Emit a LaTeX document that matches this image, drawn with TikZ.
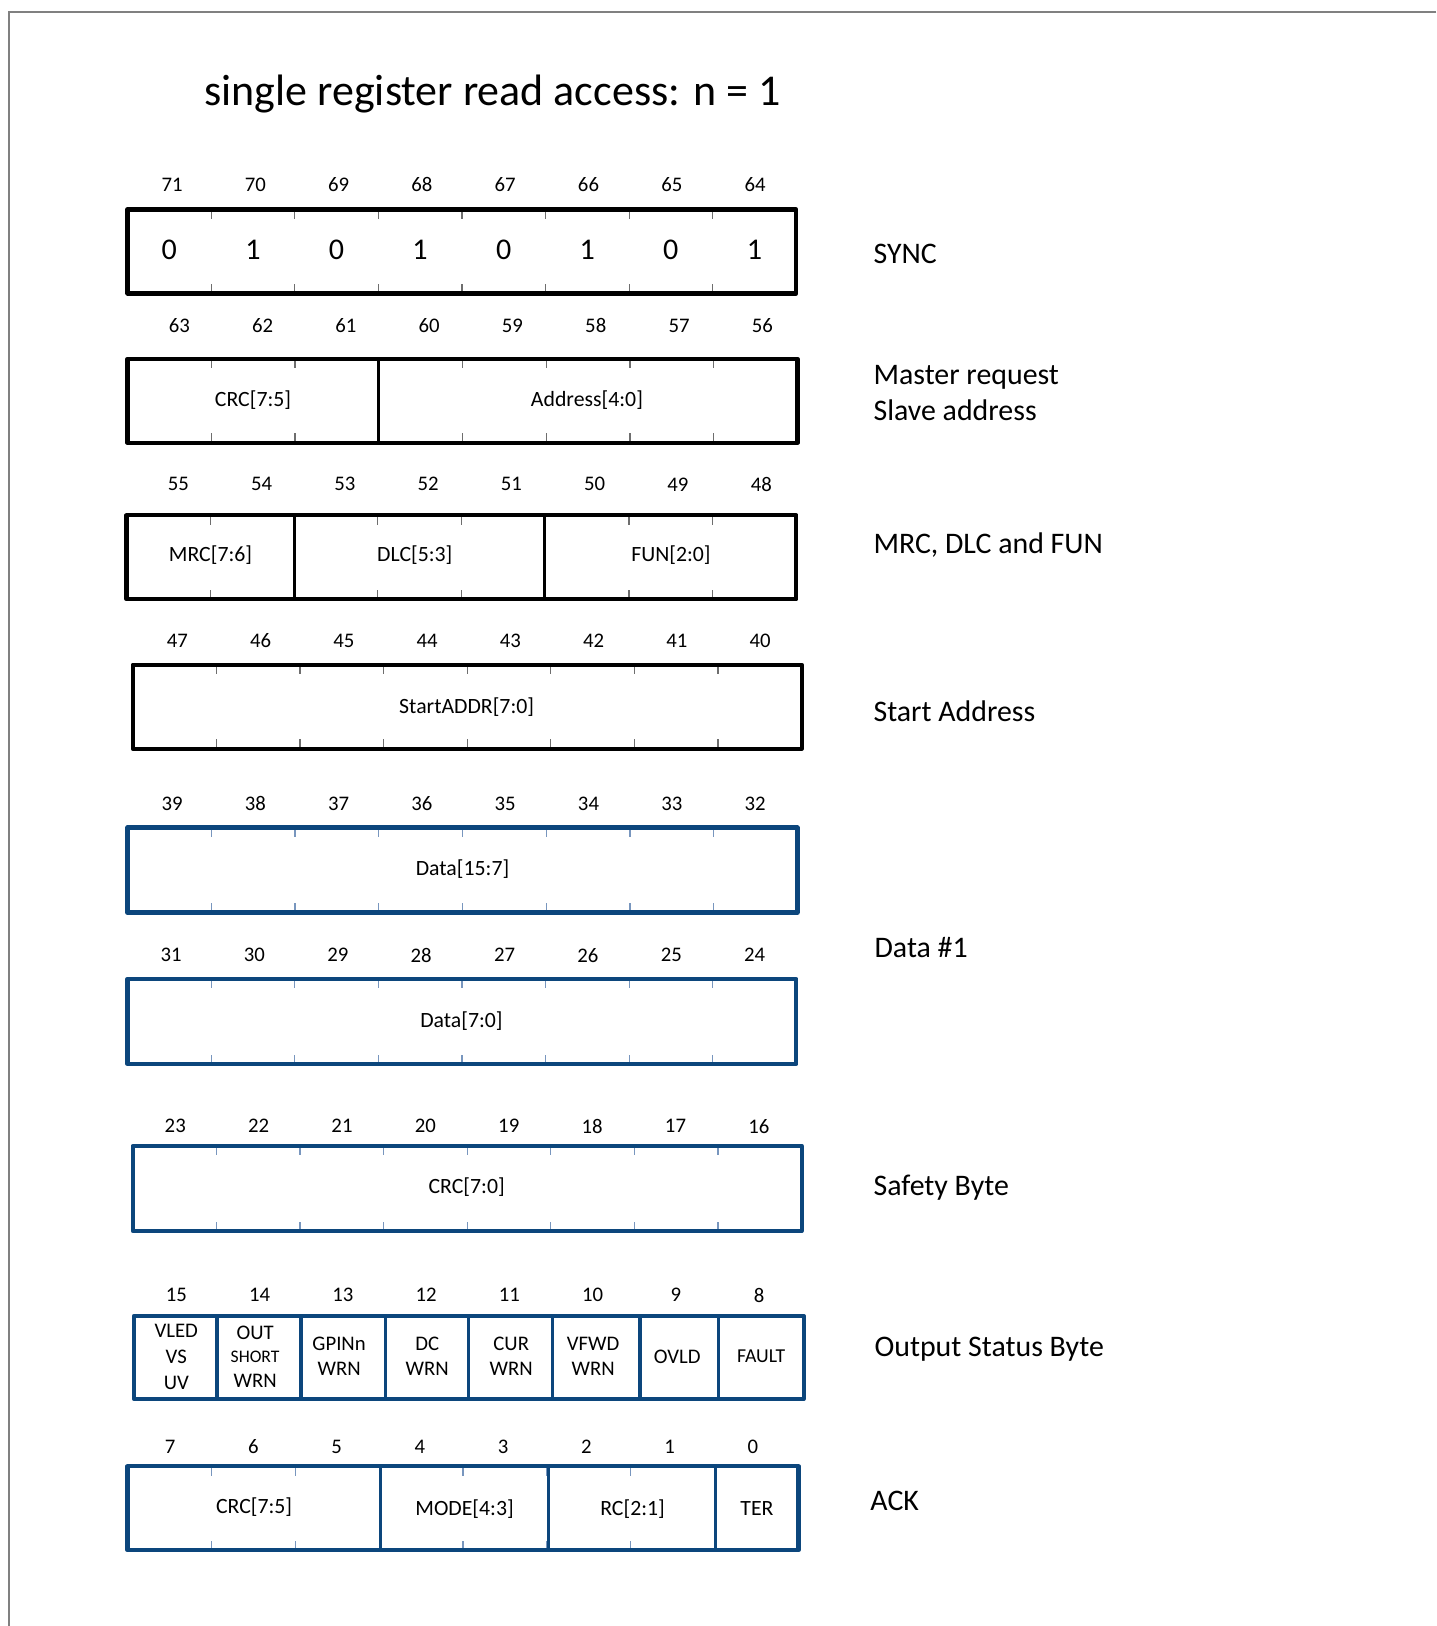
\documentclass[tikz,border=0pt]{standalone}
\usepackage{fontspec}
\setmainfont{Carlito}
\definecolor{regblue}{RGB}{12,70,124}
\definecolor{tickblue}{RGB}{120,150,190}
\definecolor{tickgray}{RGB}{110,110,110}
\newcommand\regbox[7]{%
  \foreach \ii in {1,...,7}{%
    \draw[#7, line width=0.6pt] ({#2+\ii*(#4-#2)/8},#3) -- ++(0,9)
      ({#2+\ii*(#4-#2)/8},#5) -- ++(0,-9);}
  \draw[#6, line width=2pt, line join=round] (#2,#3) rectangle (#4,#5);
}
\newcommand\regnums[4]{%
  \foreach \nn [count=\kk from 0] in {#1}{%
    \node[numtxt] (b\nn) at ({#2+\kk*#3},#4) {\nn};}
}
\tikzset{
  numtxt/.style={inner sep=0pt, font=\fontsize{10}{12}\selectfont},
  celltxt/.style={inner sep=0pt, font=\fontsize{10.5}{12}\selectfont},
  stattxt/.style={inner sep=0pt, font=\fontsize{10}{12}\selectfont},
  smalltxt/.style={inner sep=0pt, font=\fontsize{8.5}{10}\selectfont},
  sidetxt/.style={inner sep=0pt, anchor=west, align=left, font=\fontsize{14.4}{17}\selectfont},
  syncval/.style={inner sep=0pt, font=\fontsize{14.5}{16}\selectfont},
  blkdiv/.style={line width=1.2pt, black},
  bludiv/.style={line width=1.4pt, regblue},
}
\begin{document}
\begin{tikzpicture}[x=0.5pt,y=-0.5pt]
\useasboundingbox (0,0) rectangle (1385,1568);
\fill[white] (0,0) rectangle (1385,1568);
\draw[gray, line width=0.8pt] (1385,11.6) -- (8.7,11.6) -- (8.7,1568);

\node[inner sep=0pt, font=\fontsize{21.2}{24}\selectfont] (title) at (475,91) {single register read access: n = 1};

% Row 1 SYNC
\regnums{71,70,...,64}{166}{80.3}{178}
\regbox{sync}{123}{202}{768}{283}{black}{tickgray}
\foreach \vv [count=\kk from 0] in {0,1,0,1,0,1,0,1}{%
  \node[syncval] (s\kk) at ({123+(\kk+0.5)*80.6},241) {\vv};}
\node[sidetxt] (lsync) at (842,245) {SYNC};

% Row 2
\regnums{63,62,...,56}{173}{80.3}{314}
\regbox{mreq}{123}{346}{769}{427}{black}{tickgray}
\draw[blkdiv] (365,346) -- (365,427);
\node[celltxt] (crcA) at (244,386) {CRC[7:5]};
\node[celltxt] (addr) at (566,386) {Address[4:0]};
\node[sidetxt] (lmreq) at (842,379) {Master request\\Slave address};

% Row 3
\regnums{55,54,...,48}{172}{80.3}{467}
\regbox{mdf}{122}{497}{768}{578}{black}{tickgray}
\draw[blkdiv] (284,497) -- (284,578);
\draw[blkdiv] (525,497) -- (525,578);
\node[celltxt] (mrc) at (203,535) {MRC[7:6]};
\node[celltxt] (dlc) at (400,535) {DLC[5:3]};
\node[celltxt] (fun) at (647,535) {FUN[2:0]};
\node[sidetxt] (lmdf) at (842,526) {MRC, DLC and FUN};

% Row 4
\regnums{47,46,...,40}{171}{80.3}{618}
\regbox{sadr}{128}{641}{773}{722}{black}{tickgray}
\node[celltxt] (startaddr) at (450,682) {StartADDR[7:0]};
\node[sidetxt] (lsadr) at (842,686) {Start Address};

% Row 5
\regnums{39,38,...,32}{166}{80.3}{775}
\regbox{datA}{123}{798}{769}{880}{regblue}{tickblue}
\node[celltxt] (dataA) at (446,838) {Data[15:7]};

% Row 6
\regnums{31,30,...,24}{165}{80.4}{921}
\regbox{datB}{123}{944}{768}{1026}{regblue}{tickblue}
\node[celltxt] (dataB) at (445,985) {Data[7:0]};
\node[sidetxt] (ldata) at (843,914) {Data \#1};

% Row 7
\regnums{23,22,...,16}{169}{80.4}{1086}
\regbox{safe}{128}{1105}{773}{1187}{regblue}{tickblue}
\node[celltxt] (crcB) at (450,1145) {CRC[7:0]};
\node[sidetxt] (lsafe) at (842,1145) {Safety Byte};

% Row 8
\regnums{15,14,...,8}{170}{80.3}{1249}
\foreach \dv in {209.4,290.4,371.5,452.1,532.7,617.2,693.0}{%
  \draw[bludiv, line width=1.6pt] (\dv,1269) -- (\dv,1349);}
\draw[regblue, line width=2pt, line join=round] (129,1269) rectangle (775,1349);
\node[stattxt] (vled) at (170,1283) {VLED};
\node[stattxt] (vs) at (170,1308) {VS};
\node[stattxt] (uv) at (170,1334) {UV};
\node[stattxt] (out) at (246,1285) {OUT};
\node[smalltxt] (short) at (246,1308) {SHORT};
\node[stattxt] (wrnA) at (246,1332) {WRN};
\node[stattxt] (gpin) at (327,1296) {GPINn};
\node[stattxt] (wrnB) at (327,1320) {WRN};
\node[stattxt] (dc) at (412,1296) {DC};
\node[stattxt] (wrnC) at (412,1320) {WRN};
\node[stattxt] (cur) at (493,1296) {CUR};
\node[stattxt] (wrnD) at (493,1320) {WRN};
\node[stattxt] (vfwd) at (572,1296) {VFWD};
\node[stattxt] (wrnE) at (572,1320) {WRN};
\node[stattxt] (ovld) at (653,1308) {OVLD};
\node[stattxt, font=\fontsize{9.5}{10}\selectfont] (fault) at (734,1308) {FAULT};
\node[sidetxt] (lstat) at (843,1301) {Output Status Byte};

% Row 9
\regnums{7,6,...,0}{164}{80.3}{1395}
\regbox{ack}{123}{1414}{770}{1495}{regblue}{tickblue}
\foreach \dv in {367,529,690}{%
  \draw[bludiv] (\dv,1414) -- (\dv,1495);}
\node[celltxt] (crcC) at (245,1453) {CRC[7:5]};
\node[celltxt] (mode) at (448,1455) {MODE[4:3]};
\node[celltxt] (rc) at (610,1455) {RC[2:1]};
\node[celltxt] (ter) at (730,1455) {TER};
\node[sidetxt] (lack) at (839,1447) {ACK};
\end{tikzpicture}
\end{document}
